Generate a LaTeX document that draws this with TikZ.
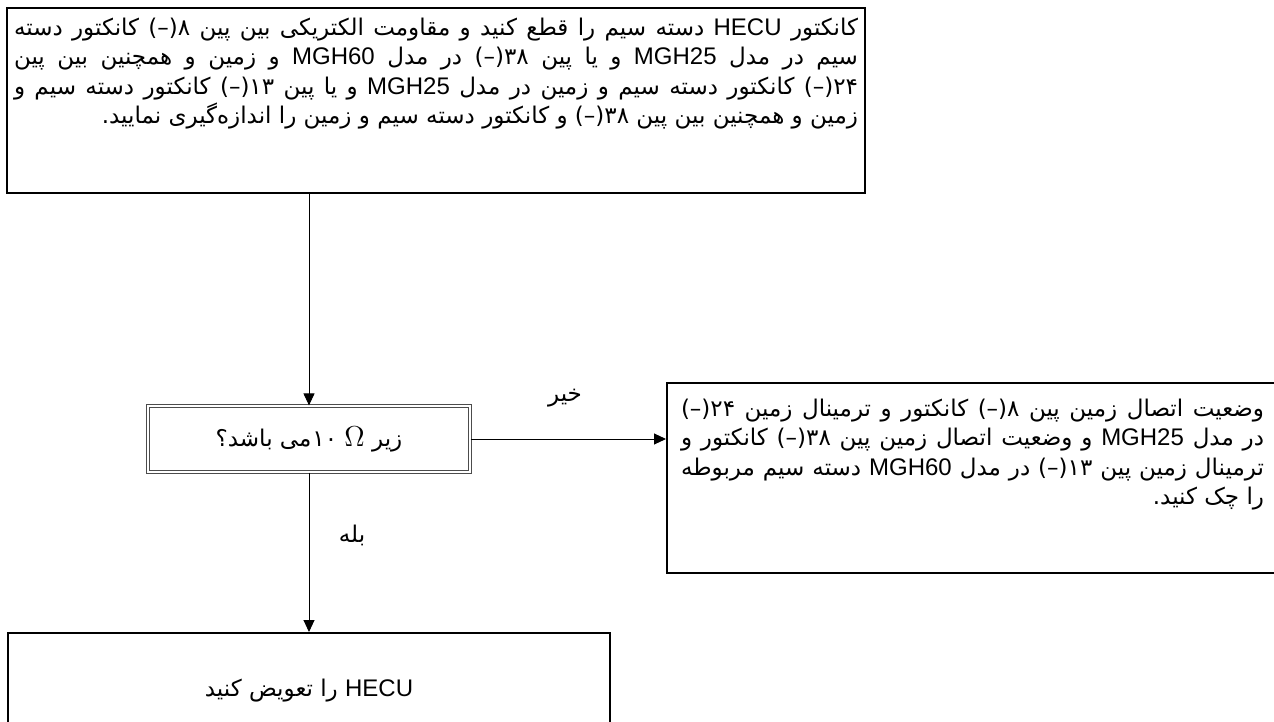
\documentclass[tikz,border=0pt]{standalone}
\usepackage{fontspec}
\setmainfont{Liberation Sans}
\newfontfamily\farsi[Script=Arabic]{DejaVu Sans}
\newfontfamily\latinf{Liberation Sans}
\TeXXeTstate=1
\usetikzlibrary{arrows.meta,positioning}

\newlength\ancho
% numero de pin seguido de (-)
\newcommand{\pin}[1]{#1\kern0pt(–)}
\newcommand{\lat}[1]{{\latinf\fontsize{12}{14.75}\selectfont #1}}
\newcommand{\renglon}[1]{\hbox to \ancho{\vrule width 0pt height 11pt depth 4pt\beginR #1\endR}}
\newcommand{\ultimo}[1]{\hbox to \ancho{\vrule width 0pt height 11pt depth 4pt\hfill\beginR #1\endR}}
\newcommand{\bloque}[4]{\vbox to #2{\ancho=#1\relax\baselineskip=14.75pt\lineskiplimit=-50pt\vskip #3\relax #4\vfill}}

\begin{document}
\begin{tikzpicture}[x=0.5pt,y=-0.5pt,
    every node/.style={font=\farsi\fontsize{11.5}{14.75}\selectfont},
    caja/.style={draw, line width=1pt, inner sep=0pt, anchor=north west},
    pregunta/.style={draw=gray!60!black, double, double distance=0.8pt, line width=0.6pt,
        minimum width=161pt, minimum height=33pt, inner sep=0pt},
    flecha/.style={-{Triangle[length=6pt,width=5.5pt]}, line width=0.5pt}]
    \useasboundingbox (0,0) rectangle (1274,722);
    \clip (0,0) rectangle (1274,722);

    % cajas
    \node[caja, minimum width=429pt, minimum height=92.5pt] (medir) at (6,7) {\bloque{422pt}{92.5pt}{2.5pt}{%
        \renglon{کانکتور \lat{HECU} دسته سیم را قطع کنید و مقاومت الکتریکی بین پین \pin{۸} کانکتور دسته}%
        \renglon{سیم در مدل \lat{MGH25} و یا پین \pin{۳۸} در مدل \lat{MGH60} و زمین و همچنین بین پین}%
        \renglon{\pin{۲۴} کانکتور دسته سیم و زمین در مدل \lat{MGH25} و یا پین \pin{۱۳} کانکتور دسته سیم و}%
        \ultimo{زمین و همچنین بین پین \pin{۳۸} و کانکتور دسته سیم و زمین را اندازه‌گیری نمایید.}}};

    \node[pregunta] (cond) at (309,439) {\beginR زیر {\fontsize{15}{15}\selectfont$\Omega$} ۱۰\kern0.5pt می باشد؟\endR};

    \node[caja, minimum width=305.5pt, minimum height=95pt] (revisar) at (666,382) {\bloque{291.5pt}{95pt}{5.5pt}{%
        \renglon{وضعیت اتصال زمین پین \pin{۸} کانکتور و ترمینال زمین \pin{۲۴}}%
        \renglon{در مدل \lat{MGH25} و وضعیت اتصال زمین پین \pin{۳۸} کانکتور و}%
        \renglon{ترمینال زمین پین \pin{۱۳} در مدل \lat{MGH60} دسته سیم مربوطه}%
        \ultimo{را چک کنید.}}};

    \node[caja, minimum width=301pt, minimum height=58pt] (cambiar) at (7,632) {\beginR\lat{HECU} را تعویض کنید\endR};

    % etiquetas
    \node (no) at (565,398) {خیر};
    \node (si) at (352,535) {بله};

    % flechas
    \draw[flecha] (medir.south -| cond.north) -- (cond.north);
    \draw[flecha] (cond.east) -- (cond.east -| revisar.west);
    \draw[flecha] (cond.south) -- (cond.south |- cambiar.north);
\end{tikzpicture}
\end{document}
